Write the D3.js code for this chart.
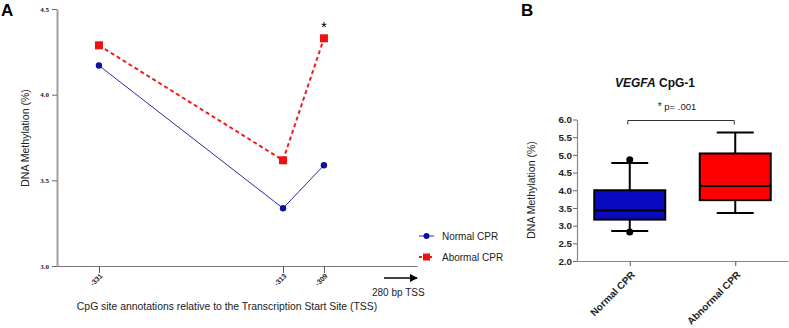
<!DOCTYPE html>
<html><head><meta charset="utf-8">
<script src="https://cdn.jsdelivr.net/npm/d3@7"></script>
<style>body{margin:0;background:#fff;} svg{display:block;font-family:"Liberation Sans",Arial,sans-serif;}</style>
</head><body>
<svg id="c" width="789" height="328"></svg>
<script>
// ---- Data ----
const cpgSites = [-331, -313, -309];
const normalCPR = [4.17, 3.337, 3.588];
const abnormalCPR = [4.288, 3.617, 4.329];
const lineYTicks = [3.0, 3.5, 4.0, 4.5];
const seriesNames = ["Normal CPR", "Abormal CPR"];

const boxGroups = ["Normal CPR", "Abnormal CPR"];
const boxMin = [2.85, 3.36];
const boxQ1 = [3.17, 3.72];
const boxMedian = [3.43, 4.12];
const boxQ3 = [4.0, 5.04];
const boxMax = [4.77, 5.63];
const boxOutliers = [[4.86, 2.82], []];
const boxYTicks = [2.0, 2.5, 3.0, 3.5, 4.0, 4.5, 5.0, 5.5, 6.0];

const svg = d3.select("#c");

// ---- Panel A ----
const xA = d3.scaleLinear().domain([-335.1, -299.9]).range([57, 417]);
const yA = d3.scaleLinear().domain([3.0, 4.5]).range([266, 9]);

svg.append("text").attr("x", 1).attr("y", 16).attr("font-size", 17).attr("font-weight", "bold").text("A");

// y axis
const gyA = svg.append("g").attr("transform", "translate(57,0)")
  .call(d3.axisLeft(yA).tickValues(lineYTicks).tickFormat(d3.format(".1f")).tickSize(5).tickSizeOuter(0));
gyA.select(".domain").attr("stroke", "#a0a0a0").attr("stroke-width", 2);
gyA.selectAll(".tick line").attr("stroke", "#666");
gyA.selectAll(".tick text").attr("font-family", "'Liberation Serif','Times New Roman',serif").attr("font-weight", "bold").attr("font-size", 7).attr("fill", "#222");

// x axis
const gxA = svg.append("g").attr("transform", "translate(0,266)")
  .call(d3.axisBottom(xA).tickValues(cpgSites).tickFormat(d => String(d)).tickSize(7).tickSizeOuter(0));
gxA.select(".domain").attr("stroke", "#777").attr("stroke-width", 1);
gxA.selectAll(".tick line").attr("stroke", "#555");
gxA.selectAll(".tick text").attr("font-size", 7).attr("font-weight", "bold").attr("fill", "#222")
  .attr("text-anchor", "end").attr("transform", "translate(2,9) rotate(-45)").attr("dy", "0.3em").attr("y", 0).attr("x", 0);

// axis titles
svg.append("text").attr("transform", "translate(29,138) rotate(-90)").attr("text-anchor", "middle")
  .attr("font-size", 10.5).attr("fill", "#222").text("DNA Methylation (%)");
svg.append("text").attr("x", 227).attr("y", 310).attr("text-anchor", "middle")
  .attr("font-size", 10.4).attr("fill", "#222").text("CpG site annotations relative to the Transcription Start Site (TSS)");

// arrow
svg.append("defs").append("marker").attr("id", "ah").attr("viewBox", "0 0 10 10").attr("refX", 9).attr("refY", 5)
  .attr("markerWidth", 8).attr("markerHeight", 8).attr("markerUnits", "userSpaceOnUse").attr("orient", "auto")
  .append("path").attr("d", "M0,0L10,5L0,10z").attr("fill", "#000");
svg.append("line").attr("x1", 384).attr("x2", 417).attr("y1", 278).attr("y2", 278)
  .attr("stroke", "#000").attr("stroke-width", 1.5).attr("marker-end", "url(#ah)");
svg.append("text").attr("x", 372).attr("y", 296).attr("font-size", 10).attr("fill", "#222").text("280 bp TSS");

// lines
const lineGen = d3.line().x((d, i) => xA(cpgSites[i])).y(d => yA(d));
svg.append("path").datum(normalCPR).attr("d", lineGen).attr("fill", "none").attr("stroke", "#2a2aa8").attr("stroke-width", 1);
svg.append("path").datum(abnormalCPR).attr("d", lineGen).attr("fill", "none").attr("stroke", "#ee1c1c").attr("stroke-width", 2).attr("stroke-dasharray", "4,3");
svg.selectAll(".pn").data(normalCPR).join("circle").attr("cx", (d, i) => xA(cpgSites[i])).attr("cy", d => yA(d)).attr("r", 3.2).attr("fill", "#1010a0");
svg.selectAll(".pa").data(abnormalCPR).join("rect").attr("x", (d, i) => xA(cpgSites[i]) - 4).attr("y", d => yA(d) - 4).attr("width", 8).attr("height", 8).attr("fill", "#ee1111");

// significance star
svg.append("text").attr("x", xA(cpgSites[2])).attr("y", yA(abnormalCPR[2]) - 6).attr("text-anchor", "middle").attr("font-size", 15).attr("fill", "#000").text("*");

// legend
const legY = [236, 257];
svg.append("line").attr("x1", 419).attr("x2", 434).attr("y1", legY[0]).attr("y2", legY[0]).attr("stroke", "#2a2aa8").attr("stroke-width", 1);
svg.append("circle").attr("cx", 426.5).attr("cy", legY[0]).attr("r", 3).attr("fill", "#1010a0");
svg.append("line").attr("x1", 419).attr("x2", 434).attr("y1", legY[1]).attr("y2", legY[1]).attr("stroke", "#ee1c1c").attr("stroke-width", 2).attr("stroke-dasharray", "3,2");
svg.append("rect").attr("x", 423).attr("y", legY[1] - 3.5).attr("width", 7).attr("height", 7).attr("fill", "#ee1111");
seriesNames.forEach((n, i) => svg.append("text").attr("x", 442).attr("y", legY[i]).attr("dy", "0.35em").attr("font-size", 10).attr("fill", "#222").text(n));

// ---- Panel B ----
svg.append("text").attr("x", 521).attr("y", 16).attr("font-size", 17).attr("font-weight", "bold").text("B");

const xB = d3.scalePoint().domain(boxGroups).range([577, 788]).padding(0.5);
const yB = d3.scaleLinear().domain([2.0, 6.0]).range([261, 119.5]);

const gyB = svg.append("g").attr("transform", "translate(577,0)")
  .call(d3.axisLeft(yB).tickValues(boxYTicks).tickFormat(d3.format(".1f")).tickSize(4).tickSizeOuter(0));
gyB.select(".domain").attr("stroke", "#888").attr("stroke-width", 1.2);
gyB.selectAll(".tick line").attr("stroke", "#666");
gyB.selectAll(".tick text").attr("font-size", 9.8).attr("font-weight", "bold").attr("fill", "#222").attr("x", -5);

const gxB = svg.append("g").attr("transform", "translate(0,261)")
  .call(d3.axisBottom(xB).tickSize(5).tickSizeOuter(0));
gxB.select(".domain").attr("stroke", "#888").attr("stroke-width", 1.2);
gxB.selectAll(".tick line").attr("stroke", "#555");
gxB.selectAll(".tick text").attr("font-size", 10).attr("font-weight", "bold").attr("fill", "#222")
  .attr("text-anchor", "end").attr("transform", "translate(3,12) rotate(-45)").attr("y", 0).attr("x", 0).attr("dy", "0.35em");

svg.append("text").attr("transform", "translate(535,190) rotate(-90)").attr("text-anchor", "middle")
  .attr("font-size", 10.5).attr("fill", "#222").text("DNA Methylation (%)");

const title = svg.append("text").attr("x", 655).attr("y", 87).attr("text-anchor", "middle").attr("font-size", 12).attr("font-weight", "bold").attr("fill", "#111");
title.append("tspan").attr("font-style", "italic").text("VEGFA");
title.append("tspan").text(" CpG-1");

const boxFill = ["#0a0ac0", "#ff0000"];
const boxW = 71, capW = 37;
boxGroups.forEach((g, i) => {
  const cx = xB(g);
  const gg = svg.append("g");
  gg.append("line").attr("x1", cx).attr("x2", cx).attr("y1", yB(boxMax[i])).attr("y2", yB(boxQ3[i])).attr("stroke", "#000").attr("stroke-width", 2);
  gg.append("line").attr("x1", cx).attr("x2", cx).attr("y1", yB(boxQ1[i])).attr("y2", yB(boxMin[i])).attr("stroke", "#000").attr("stroke-width", 2);
  gg.append("line").attr("x1", cx - capW / 2).attr("x2", cx + capW / 2).attr("y1", yB(boxMax[i])).attr("y2", yB(boxMax[i])).attr("stroke", "#000").attr("stroke-width", 2);
  gg.append("line").attr("x1", cx - capW / 2).attr("x2", cx + capW / 2).attr("y1", yB(boxMin[i])).attr("y2", yB(boxMin[i])).attr("stroke", "#000").attr("stroke-width", 2);
  gg.append("rect").attr("x", cx - boxW / 2).attr("y", yB(boxQ3[i])).attr("width", boxW).attr("height", yB(boxQ1[i]) - yB(boxQ3[i]))
    .attr("fill", boxFill[i]).attr("stroke", "#000").attr("stroke-width", 2);
  gg.append("line").attr("x1", cx - boxW / 2).attr("x2", cx + boxW / 2).attr("y1", yB(boxMedian[i])).attr("y2", yB(boxMedian[i])).attr("stroke", "#000").attr("stroke-width", 2);
  boxOutliers[i].forEach(o => gg.append("circle").attr("cx", cx).attr("cy", yB(o)).attr("r", 3.5).attr("fill", "#000"));
});

// significance bracket
const bx1 = xB(boxGroups[0]) - 2, bx2 = xB(boxGroups[1]) - 1, by = 120.5;
svg.append("path").attr("d", `M${bx1},${by + 4}V${by}H${bx2}V${by + 4}`).attr("fill", "none").attr("stroke", "#333").attr("stroke-width", 1);
const pt = svg.append("text").attr("x", 677).attr("y", 110).attr("text-anchor", "middle").attr("font-size", 9.5).attr("fill", "#222");
pt.append("tspan").attr("font-size", 10).text("*");
pt.append("tspan").text(" p= .001");
</script>
</body></html>
